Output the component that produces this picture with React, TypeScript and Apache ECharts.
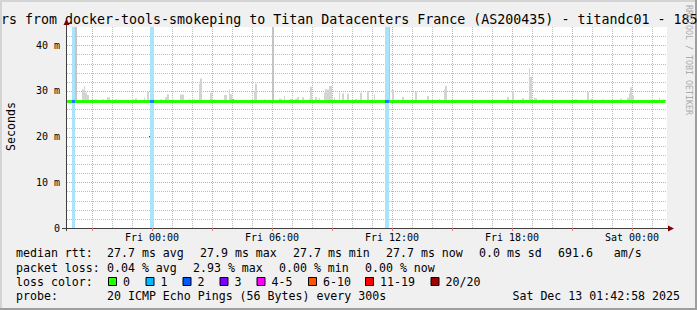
import React, { useEffect, useRef } from "react";
import * as echarts from "echarts";

const TITLE = "rs from docker-tools-smokeping to Titan Datacenters France (AS200435) - titandc01 - 185";
const Y_NAME = "Seconds";
const WATERMARK = "RRDTOOL / TOBI OETIKER";

// time axis: minutes relative to Fri 00:00, 5-minute steps
const X_MIN = -255;
const X_MAX = 1545;
const STEP = 5;
const Y_MAX = 44;
const Y_INTERVAL = 10;
const SMOKE_BASE = 27.5;

const xTickMinutes = [0, 360, 720, 1080, 1440];
const xTickLabels = ["Fri 00:00", "Fri 06:00", "Fri 12:00", "Fri 18:00", "Sat 00:00"];
const majorGridMinutes = [-180, 0, 180, 360, 540, 720, 900, 1080, 1260, 1440];
const minorGridMinutes = [-240, -120, -60, 60, 120, 240, 300, 420, 480, 600, 660, 780, 840, 960, 1020, 1140, 1200, 1320, 1380, 1500];
const yTickValues = [0, 10, 20, 30, 40];
const yTickLabels = ["0", "10 m", "20 m", "30 m", "40 m"];
const majorGridMs = [10, 20, 30, 40];
const minorGridMs = [2, 4, 6, 8, 12, 14, 16, 18, 22, 24, 26, 28, 32, 34, 36, 38, 42];

const smokeMinutes = [-230, -210, -205, -200, -195, -170, -150, -135, -130, -110, -60, -50, -25, -15, -5, 0, 25, 40, 45, 60, 85, 90, 110, 125, 140, 145, 155, 175, 185, 215, 220, 230, 235, 305, 310, 335, 360, 380, 385, 395, 415, 430, 435, 450, 470, 475, 490, 500, 515, 520, 525, 530, 535, 545, 560, 570, 585, 610, 625, 645, 665, 710, 720, 750, 790, 825, 860, 875, 880, 1065, 1080, 1110, 1130, 1135, 1145, 1150, 1170, 1270, 1305, 1315, 1350, 1405, 1425, 1430, 1435, 1440, 1505, 1520];
const smokeTops = [44, 30.3, 31.1, 29.6, 29.1, 28.2, 28.2, 28.6, 28.6, 28.2, 28.2, 28.4, 28.6, 30.0, 44, 44, 28.2, 28.6, 29.3, 28.2, 29.2, 29.2, 28.3, 28.3, 31.5, 32.7, 28.2, 29.6, 28.2, 29.1, 29.1, 30.4, 29.3, 30.0, 31.6, 28.2, 44, 28.4, 28.3, 28.9, 28.3, 28.3, 28.7, 28.6, 28.3, 30.9, 28.7, 28.5, 29.6, 30.4, 30.3, 31.1, 31.1, 28.6, 29.7, 29.5, 29.4, 28.3, 29.6, 30.0, 29.3, 44, 30.2, 28.7, 29.8, 28.9, 28.3, 30.3, 31.1, 28.7, 30.0, 28.4, 35.0, 33.1, 28.5, 28.4, 28.2, 28.2, 29.8, 28.3, 28.2, 28.3, 28.5, 29.5, 30.8, 29.0, 28.2, 28.5];

const medianMinutes = [-255, 240, 245, 1540];
const medianValues = [27.7, 27.9, 27.7, 27.7];

const lossStartMinutes = [-240, -5, 700];
const lossEndMinutes = [-230, 5, 710];
const lossMedianValues = [27.7, 27.7, 27.7];

const rttLabel = "median rtt:";
const rttStats = ["27.7 ms avg", "27.9 ms max", "27.7 ms min", "27.7 ms now", "0.0 ms sd", "691.6   am/s"];
const lossLabel = "packet loss:";
const lossStats = ["0.04 % avg", "2.93 % max", "0.00 % min", "0.00 % now"];
const colorLabel = "loss color:";
const lossColorLabels = ["0", "1", "2", "3", "4-5", "6-10", "11-19", "20/20"];
const lossColors = ["#26ff00", "#00b8ff", "#0059ff", "#7e00ff", "#ff00ff", "#ff5500", "#ff0000", "#a10000"];
const probeLabel = "probe:";
const probeText = "20 ICMP Echo Pings (56 Bytes) every 300s";
const dateText = "Sat Dec 13 01:42:58 2025";

// layout
const W = 697;
const H = 310;
const GL = 67;
const GT = 27;
const GR = 667;
const GB = 228;
const MONO = '"DejaVu Sans Mono", monospace';
const LEG_FONT = `11.6px ${MONO}`;
const rttX = [107, 200, 293, 386, 479, 558];
const lossX = [107, 193, 279, 365];
const boxX = [108, 145.5, 182.5, 219.5, 256.5, 308, 365, 430.5];
const rowY = [253.4, 267.6, 281.8, 296];

const GRID_GREY = "#bdbdbd";
const GRID_RED = "#f09a9a";

function legendText(text: string, x: number, y: number, align = "left") {
  return {
    type: "text",
    x,
    y,
    silent: true,
    style: { text, fill: "#000", font: LEG_FONT, align, verticalAlign: "middle" },
  };
}

function buildOption() {
  const graphics: any[] = [];
  // frame
  graphics.push({ type: "rect", shape: { x: 0, y: 0, width: W, height: 2 }, style: { fill: "#d4d4d4" }, silent: true });
  graphics.push({ type: "rect", shape: { x: 0, y: 0, width: 2, height: H }, style: { fill: "#d4d4d4" }, silent: true });
  graphics.push({ type: "rect", shape: { x: 0, y: H - 2, width: W, height: 2 }, style: { fill: "#9e9e9e" }, silent: true });
  graphics.push({ type: "rect", shape: { x: W - 2, y: 0, width: 2, height: H }, style: { fill: "#9e9e9e" }, silent: true });
  // title
  graphics.push({
    type: "text", x: 1, y: 19.7, silent: true,
    style: { text: TITLE, fill: "#000", font: `13.3px ${MONO}`, align: "left", verticalAlign: "middle" },
  });
  // y axis name
  graphics.push({
    type: "text", x: 10.5, y: 126.5, rotation: Math.PI / 2, silent: true,
    style: { text: Y_NAME, fill: "#000", font: LEG_FONT, align: "center", verticalAlign: "middle" },
  });
  // watermark
  graphics.push({
    type: "text", x: 688.5, y: 60, rotation: -Math.PI / 2, silent: true,
    style: { text: WATERMARK, fill: "#ababab", font: `8.3px ${MONO}`, align: "center", verticalAlign: "middle" },
  });
  // axis lines
  graphics.push({ type: "line", shape: { x1: GL - 0.5, y1: 24, x2: GL - 0.5, y2: GB + 3 }, style: { stroke: "#404040", lineWidth: 1 }, silent: true });
  graphics.push({ type: "line", shape: { x1: GL - 5, y1: GB + 0.5, x2: GR + 2, y2: GB + 0.5 }, style: { stroke: "#404040", lineWidth: 1 }, silent: true });
  // arrows
  graphics.push({ type: "polygon", shape: { points: [[GL - 3.5, 25], [GL - 0.5, 19], [GL + 2.5, 25]] }, style: { fill: "#7f0000" }, silent: true });
  graphics.push({ type: "polygon", shape: { points: [[GR + 1, GB - 2.5], [GR + 7, GB + 0.5], [GR + 1, GB + 3.5]] }, style: { fill: "#7f0000" }, silent: true });

  // legend rows
  graphics.push(legendText(rttLabel, 16, rowY[0]));
  rttStats.forEach((t, i) => graphics.push(legendText(t, rttX[i], rowY[0])));
  graphics.push(legendText(lossLabel, 16, rowY[1]));
  lossStats.forEach((t, i) => graphics.push(legendText(t, lossX[i], rowY[1])));
  graphics.push(legendText(colorLabel, 16, rowY[2]));
  lossColorLabels.forEach((t, i) => {
    graphics.push({
      type: "rect", silent: true,
      shape: { x: boxX[i] + 0.5, y: rowY[2] - 4.3, width: 8, height: 8 },
      style: { fill: lossColors[i], stroke: "#000", lineWidth: 1 },
    });
    graphics.push(legendText(t, boxX[i] + 15, rowY[2]));
  });
  graphics.push(legendText(probeLabel, 16, rowY[3]));
  graphics.push(legendText(probeText, 107, rowY[3]));
  graphics.push(legendText(dateText, 680, rowY[3], "right"));

  const vGrid = (color: string) => (params: any, api: any) => {
    const v = api.value(0);
    const x = Math.round(api.coord([v, 0])[0]) + 0.5;
    const yTop = api.coord([v, Y_MAX])[1];
    const yBot = api.coord([v, 0])[1];
    return { type: "line", shape: { x1: x, y1: yTop, x2: x, y2: yBot }, style: { stroke: color, lineWidth: 1, lineDash: [1, 1] } };
  };
  const hGrid = (color: string) => (params: any, api: any) => {
    const v = api.value(1);
    const y = Math.round(api.coord([X_MIN, v])[1]) + 0.5;
    const x1 = api.coord([X_MIN, v])[0];
    const x2 = api.coord([X_MAX, v])[0];
    return { type: "line", shape: { x1, y1: y, x2, y2: y }, style: { stroke: color, lineWidth: 1, lineDash: [1, 1] } };
  };

  return {
    animation: false,
    backgroundColor: "#f0f0f0",
    grid: { left: GL, top: GT, right: W - GR, bottom: H - GB, show: true, backgroundColor: "#ffffff", borderWidth: 0 },
    xAxis: {
      type: "value", min: X_MIN, max: X_MAX,
      axisLine: { show: false }, splitLine: { show: false },
      axisTick: { show: true, customValues: majorGridMinutes, length: 3, lineStyle: { color: "#e08080" } },
      axisLabel: {
        customValues: xTickMinutes,
        formatter: (v: number) => xTickLabels[xTickMinutes.indexOf(v)] ?? "",
        fontFamily: MONO, fontSize: 10, color: "#000", margin: 4,
      },
    },
    yAxis: {
      type: "value", min: 0, max: Y_MAX, interval: Y_INTERVAL,
      axisLine: { show: false }, splitLine: { show: false },
      axisTick: { show: true, length: 3, lineStyle: { color: "#404040" } },
      axisLabel: {
        showMaxLabel: false,
        formatter: (v: number) => (yTickValues.indexOf(v) >= 0 ? yTickLabels[yTickValues.indexOf(v)] : ""),
        fontFamily: MONO, fontSize: 10, color: "#000", margin: 7,
      },
    },
    graphic: graphics,
    series: [
      { type: "custom", silent: true, z: 1, renderItem: vGrid(GRID_GREY), data: minorGridMinutes.map((m) => [m, 0]) },
      { type: "custom", silent: true, z: 1, renderItem: hGrid(GRID_GREY), data: minorGridMs.map((v) => [X_MIN, v]) },
      { type: "custom", silent: true, z: 1, renderItem: vGrid(GRID_RED), data: majorGridMinutes.map((m) => [m, 0]) },
      { type: "custom", silent: true, z: 1, renderItem: hGrid(GRID_RED), data: majorGridMs.map((v) => [X_MIN, v]) },
      {
        type: "custom", silent: true, z: 2, clip: true,
        renderItem: (params: any, api: any) => {
          const m = api.value(0);
          const top = api.value(1);
          const p0 = api.coord([m, SMOKE_BASE]);
          const p1 = api.coord([m + STEP, top]);
          const x0 = Math.round(p0[0]);
          const x1 = Math.max(Math.round(p1[0]), x0 + 1);
          return {
            type: "rect",
            shape: { x: x0, y: p1[1], width: x1 - x0, height: p0[1] - p1[1] },
            style: { fill: top >= Y_MAX ? "#c4c4c4" : "#d4d4d4" },
          };
        },
        data: smokeMinutes.map((m, i) => [m, smokeTops[i]]),
      },
      {
        type: "custom", silent: true, z: 3,
        dimensions: ["start", "end"], encode: { x: [0, 1] },
        renderItem: (params: any, api: any) => {
          const p0 = api.coord([api.value(0), 0]);
          const p1 = api.coord([api.value(1), Y_MAX]);
          const x0 = Math.round(p0[0]);
          const x1 = Math.round(p1[0]);
          return {
            type: "rect",
            shape: { x: x0, y: Math.round(p1[1]), width: x1 - x0, height: Math.round(p0[1]) - Math.round(p1[1]) },
            style: { fill: "#a8e4fc" },
          };
        },
        data: lossStartMinutes.map((s, i) => [s, lossEndMinutes[i]]),
      },
      {
        type: "line", silent: true, z: 4, step: "end", symbol: "none", showSymbol: false,
        lineStyle: { color: "#26ff00", width: 3 },
        data: medianMinutes.map((m, i) => [m, medianValues[i]]),
      },
      {
        type: "custom", silent: true, z: 5,
        dimensions: ["start", "end", "median"], encode: { x: [0, 1], y: 2 },
        renderItem: (params: any, api: any) => {
          const med = api.value(2);
          const p0 = api.coord([api.value(0), med]);
          const p1 = api.coord([api.value(1), med]);
          return { type: "line", shape: { x1: Math.round(p0[0]), y1: p0[1], x2: Math.round(p1[0]), y2: p1[1] }, style: { stroke: "#1a7cff", lineWidth: 3 } };
        },
        data: lossStartMinutes.map((s, i) => [s, lossEndMinutes[i], lossMedianValues[i]]),
      },
    ],
  };
}

export default function App() {
  const ref = useRef<HTMLDivElement>(null);
  useEffect(() => {
    if (!ref.current) return;
    const chart = echarts.init(ref.current, undefined, { renderer: "svg", width: W, height: H });
    chart.setOption(buildOption() as any);
    return () => chart.dispose();
  }, []);
  return <div ref={ref} style={{ position: "absolute", left: 0, top: 0, width: W, height: H }} />;
}
